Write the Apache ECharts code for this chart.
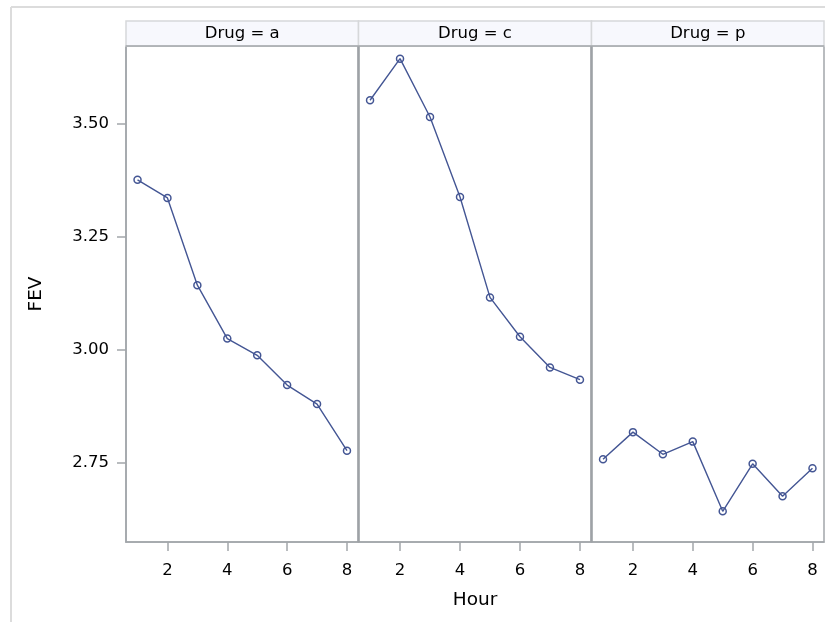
<!DOCTYPE html>
<html>
<head>
<meta charset="utf-8">
<script src="https://cdn.jsdelivr.net/npm/echarts@6/dist/echarts.min.js"></script>
<style>
  html, body { margin: 0; padding: 0; background: #fff; }
  #chart { width: 825px; height: 622px; }
</style>
</head>
<body>
<div id="chart"></div>
<script>
// data
let hours = [1, 2, 3, 4, 5, 6, 7, 8];
let drugA = [3.376, 3.336, 3.143, 3.025, 2.988, 2.922, 2.880, 2.777];
let drugC = [3.552, 3.644, 3.515, 3.338, 3.116, 3.029, 2.961, 2.934];
let drugP = [2.758, 2.818, 2.769, 2.797, 2.643, 2.748, 2.676, 2.738];
let panels = ["Drug = a", "Drug = c", "Drug = p"];
let xTicks = [2, 4, 6, 8];
let yTicks = [2.75, 3.00, 3.25, 3.50];

let d = document;
let chart = echarts.init(d.getElementById("chart"));

let font = "DejaVu Sans";
let axisGray = "#a2a6aa";
let lineColor = "#445694";
let lefts = [126, 358.5, 591.5];
let widths = [232.5, 233, 232.5];
let gTop = 46, gHeight = 496;

let series = [drugA, drugC, drugP];

let grids = [], xAxes = [], yAxes = [], ser = [], graphic = [];

lefts.forEach((l, i) => {
  grids.push({
    left: l, top: gTop, width: widths[i], height: gHeight,
    show: true, borderColor: axisGray, borderWidth: 1.5, backgroundColor: "#fff"
  });
  xAxes.push({
    type: "value", gridIndex: i, min: 0.615, max: 8.385,
    name: i === 1 ? "Hour" : "",
    nameLocation: "middle", nameGap: 49,
    nameTextStyle: { fontFamily: font, fontSize: 18.5, color: "#000" },
    splitLine: { show: false },
    axisLine: { show: true, lineStyle: { color: axisGray, width: 1.5 } },
    axisTick: { show: true, length: 9, lineStyle: { color: axisGray, width: 1.5 }, customValues: xTicks },
    axisLabel: { margin: 20, fontFamily: font, fontSize: 16.5, color: "#000", customValues: xTicks }
  });
  yAxes.push({
    type: "value", gridIndex: i, min: 2.575, max: 3.672,
    name: i === 0 ? "FEV" : "",
    nameLocation: "middle", nameGap: 80,
    nameTextStyle: { fontFamily: font, fontSize: 18.5, color: "#000" },
    splitLine: { show: false },
    axisLine: { show: i === 0, lineStyle: { color: axisGray, width: 1.5 } },
    axisTick: { show: i === 0, length: 9, lineStyle: { color: axisGray, width: 1.5 }, customValues: yTicks },
    axisLabel: {
      show: i === 0, margin: 17, fontFamily: font, fontSize: 16.5, color: "#000",
      customValues: yTicks,
      formatter: (v) => v.toFixed(2)
    }
  });
  ser.push({
    type: "line", xAxisIndex: i, yAxisIndex: i,
    data: hours.map((h, k) => [h, series[i][k]]),
    symbol: "circle", symbolSize: 7, showAllSymbol: true,
    lineStyle: { color: lineColor, width: 1.4 },
    itemStyle: { color: "rgba(255,255,255,0)", borderColor: lineColor, borderWidth: 1.5 },
    emphasis: { disabled: true },
    animation: false
  });
  // header strip above each panel
  graphic.push({
    type: "rect",
    shape: { x: l, y: 21, width: widths[i], height: gTop - 21 },
    style: { fill: "#f7f8fd", stroke: "#d6d8da", lineWidth: 1.5 },
    z: 1
  });
  graphic.push({
    type: "text",
    x: l + widths[i] / 2, y: 33.5,
    style: { text: panels[i], font: "16.5px '" + font + "'", fill: "#000", align: "center", verticalAlign: "middle" },
    z: 2
  });
});

// heavier dividers between panels and under the headers
[lefts[1], lefts[2]].forEach((x) => {
  graphic.push({ type: "line", shape: { x1: x, y1: gTop, x2: x, y2: gTop + gHeight }, style: { stroke: "#9ea2a6", lineWidth: 2.5 }, z: 50 });
});
graphic.push({ type: "line", shape: { x1: lefts[0], y1: gTop, x2: 824, y2: gTop }, style: { stroke: "#a6aaae", lineWidth: 1.5 }, z: 50 });

// outer frame
graphic.push({ type: "line", shape: { x1: 11, y1: 7, x2: 11, y2: 622 }, style: { stroke: "#dcdcdc", lineWidth: 2 }, z: 0 });
graphic.push({ type: "line", shape: { x1: 11, y1: 7, x2: 825, y2: 7 }, style: { stroke: "#dcdcdc", lineWidth: 2 }, z: 0 });

chart.setOption({
  animation: false,
  grid: grids,
  xAxis: xAxes,
  yAxis: yAxes,
  series: ser,
  graphic: graphic
});
</script>
</body>
</html>
